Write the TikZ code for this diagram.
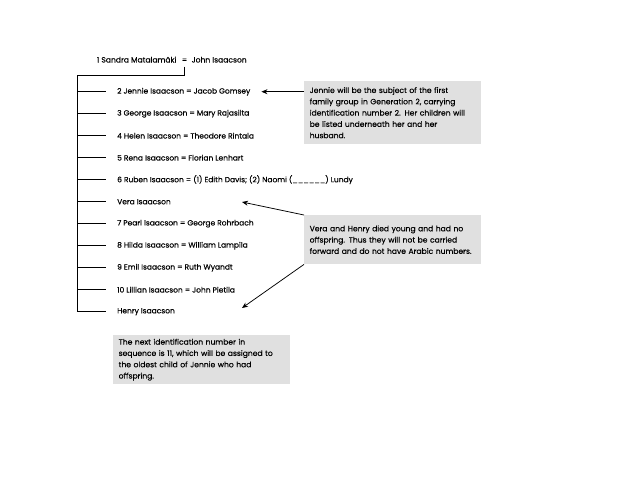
\documentclass[tikz,border=0pt]{standalone}
\usepackage{fontspec}
\setmainfont{Poppins}[FakeBold=0.25]
\usetikzlibrary{arrows.meta,positioning,calc}
\definecolor{notegray}{HTML}{E0E0E0}

\tikzset{
  title/.style={inner xsep=2pt, inner ysep=2.3pt, text height=5.5pt, text depth=1.5pt, font=\fontsize{7.6}{9}\selectfont},
  person/.style={anchor=west, inner xsep=11pt, inner ysep=2pt, font=\fontsize{7.5}{9}\selectfont},
  note/.style={fill=notegray, anchor=north west, inner xsep=5.5pt, text width=166pt, align=left, font=\fontsize{7.6}{11.3}\selectfont},
  tree/.style={line width=0.75pt},
  pointer/.style={line width=0.75pt, -{Stealth[length=6pt,width=5pt]}}
}

\begin{document}
\begin{tikzpicture}[x=1pt,y=-1pt]
\useasboundingbox[fill=white] (0,0) rectangle (622,480);

% first couple
\node[title] (couple) at (184.5,60.5) {=};
\node[title, left=1pt of couple] (sandra) {1 Sandra Matalamäki};
\node[title, right=0pt of couple] (john) {John Isaacson};

% children
\node[person] (jennie) at (106,91.7) {2 Jennie Isaacson = Jacob Gomsey};
\node[person] (george) at (106,113.7) {3 George Isaacson = Mary Rajasilta};
\node[person] (helen) at (106,135.7) {4 Helen Isaacson = Theodore Rintala};
\node[person] (rena) at (106,157.7) {5 Rena Isaacson = Florian Lenhart};
\node[person] (ruben) at (106,179.7) {6 Ruben Isaacson = (1) Edith Davis; (2) Naomi (\_\_\_\_\_\_) Lundy};
\node[person] (vera) at (106,201.7) {Vera Isaacson};
\node[person] (pearl) at (106,223.7) {7 Pearl Isaacson = George Rohrbach};
\node[person] (hilda) at (106,245.7) {8 Hilda Isaacson = William Lampila};
\node[person] (emil) at (106,267.7) {9 Emil Isaacson = Ruth Wyandt};
\node[person] (lillian) at (106,289.7) {10 Lillian Isaacson = John Pietila};
\node[person] (henry) at (106,311.7) {Henry Isaacson};

\coordinate (corner) at (77,75);
\draw[tree] (couple.south) |- (corner) -- (corner |- henry.west);
\draw[tree] (corner |- jennie.west) -- (jennie.west)
  (corner |- george.west) -- (george.west)
  (corner |- helen.west) -- (helen.west)
  (corner |- rena.west) -- (rena.west)
  (corner |- ruben.west) -- (ruben.west)
  (corner |- vera.west) -- (vera.west)
  (corner |- pearl.west) -- (pearl.west)
  (corner |- hilda.west) -- (hilda.west)
  (corner |- emil.west) -- (emil.west)
  (corner |- lillian.west) -- (lillian.west)
  (corner |- henry.west) -- (henry.west);

% notes
\node[note, minimum height=63pt] (jennienote) at (304,81) {Jennie will be the subject of the first\\
family group in Generation 2, carrying\\
identification number 2. Her children will\\
be listed underneath her and her\\
husband.};
\node[note, minimum height=49pt] (nonote) at (304,215) {Vera and Henry died young and had no\\
offspring. Thus they will not be carried\\
forward and do not have Arabic numbers.};
\node[note, minimum height=49pt] (nextnote) at (113,335) {The next identification number in\\
sequence is 11, which will be assigned to\\
the oldest child of Jennie who had\\
offspring.};

\coordinate (veratip) at (242,202);
\coordinate (henrytip) at (242,308);
\draw[pointer] (jennienote.west |- jennie.east) -- (jennie.east);
\draw[pointer] (nonote.north west) -- (veratip);
\draw[pointer] (nonote.south west) -- (henrytip);

\end{tikzpicture}
\end{document}
